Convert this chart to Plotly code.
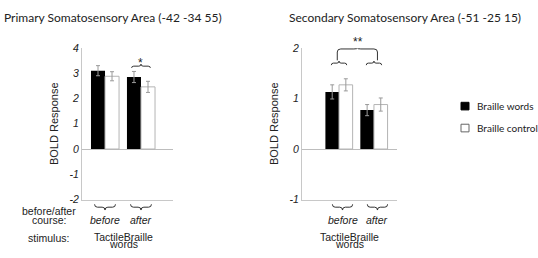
import plotly.graph_objects as go

W, H = 538, 258

# ---- data ----
groups = ["before", "after"]
group_idx = [0, 1]
left_words = [3.10, 2.85]
left_words_err = [0.20, 0.22]
left_control = [2.88, 2.46]
left_control_err = [0.18, 0.22]
right_words = [1.13, 0.77]
right_words_err = [0.14, 0.11]
right_control = [1.27, 0.88]
right_control_err = [0.12, 0.13]
left_ticks = [-2, -1, 0, 1, 2, 3, 4]
left_ticktext = ["-2", "-1", "0", "1", "2", "3", "4"]
right_ticks = [-1, 0, 1, 2]
right_ticktext = ["-1", "0", "1", "2"]
series_names = ["Braille words", "Braille control"]
titles = ["Primary Somatosensory Area (-42 -34 55)",
          "Secondary Somatosensory Area (-51 -25 15)"]

AX_FONT = "Liberation Sans, Arial, sans-serif"
TI_FONT = "Lato, Open Sans, sans-serif"
GRAY_LINE = "#c8c8c8"
ERR = "#9a9a9a"
TXT = "#222"


def px(x):
    return x / W


def py(y):
    return 1 - y / H


fig = go.Figure()


def add_panel(xa, ya, words, words_err, control, control_err):
    fig.add_trace(go.Bar(
        x=group_idx, y=words, name=series_names[0], xaxis=xa, yaxis=ya,
        marker=dict(color="black", line=dict(width=0)),
        error_y=dict(type="data", array=words_err, color=ERR, thickness=1, width=2),
        showlegend=False))
    fig.add_trace(go.Bar(
        x=group_idx, y=control, name=series_names[1], xaxis=xa, yaxis=ya,
        marker=dict(color="white", line=dict(color="#b4b4b4", width=1)),
        error_y=dict(type="data", array=control_err, color=ERR, thickness=1, width=2),
        showlegend=False))


add_panel("x", "y", left_words, left_words_err, left_control, left_control_err)
add_panel("x2", "y2", right_words, right_words_err, right_control, right_control_err)

ydom = [py(203), py(44)]
common_y = dict(showline=True, linecolor=GRAY_LINE, linewidth=1, showgrid=False,
                zeroline=True, zerolinecolor="#bdbdbd", zerolinewidth=1, ticks="",
                tickfont=dict(family=AX_FONT, size=10.5, color=TXT, style="italic"),
                domain=ydom)
common_x = dict(showline=True, linecolor=GRAY_LINE, linewidth=1, showgrid=False,
                zeroline=False, showticklabels=False, ticks="")

fig.update_layout(
    width=W, height=H, margin=dict(l=0, r=0, t=0, b=0),
    paper_bgcolor="white", plot_bgcolor="white",
    barmode="group", bargap=0.22, bargroupgap=0,
    showlegend=False,
    xaxis=dict(common_x, domain=[px(82), px(173)], range=[-0.64, 1.89], anchor="y"),
    xaxis2=dict(common_x, domain=[px(302), px(397)], range=[-1.06, 1.66], anchor="y2"),
    yaxis=dict(common_y, range=[-2, 4], tickvals=left_ticks, ticktext=left_ticktext,
               anchor="x",
               title=dict(text="BOLD Response", standoff=8,
                          font=dict(family=AX_FONT, size=11, color=TXT))),
    yaxis2=dict(common_y, range=[-1, 2], tickvals=right_ticks, ticktext=right_ticktext,
                anchor="x2",
                title=dict(text="BOLD Response", standoff=8,
                           font=dict(family=AX_FONT, size=11, color=TXT))),
)


def brace(x0, x1, yend, yarm, ytip, rx):
    xm = (x0 + x1) / 2
    return (f"M{x0},{yend} Q{x0},{yarm} {x0 + rx},{yarm} L{xm - rx},{yarm} "
            f"Q{xm},{yarm} {xm},{ytip} Q{xm},{yarm} {xm + rx},{yarm} "
            f"L{x1 - rx},{yarm} Q{x1},{yarm} {x1},{yend}")


def brace_sq(x0, x1, yend, yarm, ytip, rx, ry):
    xm = (x0 + x1) / 2
    s = 1 if yarm > yend else -1
    return (f"M{x0},{yend} L{x0},{yarm - s * ry} Q{x0},{yarm} {x0 + rx},{yarm} "
            f"L{xm - rx},{yarm} Q{xm},{yarm} {xm},{ytip} Q{xm},{yarm} {xm + rx},{yarm} "
            f"L{x1 - rx},{yarm} Q{x1},{yarm} {x1},{yarm - s * ry} L{x1},{yend}")


shapes = []
annots = []
line = dict(color="#333", width=1)

# significance braces, left panel
shapes.append(dict(type="path", xref="x", yref="y", line=line,
                   path=brace(1 - 0.26, 1 + 0.26, 3.21, 3.28, 3.36, 0.06)))
annots.append(dict(text="*", xref="x", yref="y", x=1, y=3.40, xanchor="center",
                   yanchor="middle", showarrow=False,
                   font=dict(family=AX_FONT, size=12, color=TXT)))
# right panel
for gx in group_idx:
    shapes.append(dict(type="path", xref="x2", yref="y2", line=line,
                       path=brace(gx - 0.22, gx + 0.22, 1.66, 1.70, 1.74, 0.06)))
shapes.append(dict(type="path", xref="x2", yref="y2", line=line,
                   path=brace_sq(-0.05, 1.1, 1.755, 1.98, 2.0, 0.1, 0.06)))
annots.append(dict(text="**", xref="x2", yref="paper", x=0.53, y=py(38), xanchor="center",
                   yanchor="middle", showarrow=False,
                   font=dict(family=AX_FONT, size=12, color=TXT)))

# under-axis braces and labels
for xa, shift in (("x", 0.0), ("x2", 0.1)):
    for gx, g in zip(group_idx, groups):
        shapes.append(dict(type="path", xref=xa, yref="paper", line=dict(color="#333", width=1),
                           path=brace(gx + shift - 0.29, gx + shift + 0.29,
                                      py(208), py(211), py(214), 0.08)))
        annots.append(dict(text=g, xref=xa, yref="paper", x=gx + shift, y=py(224),
                           xanchor="center", yanchor="middle", showarrow=False,
                           font=dict(family=AX_FONT, size=10.5, color=TXT, style="italic")))
    annots.append(dict(text="TactileBraille", xref=xa, yref="paper", x=0.5 - shift * 2, y=py(242),
                       xanchor="center", yanchor="middle", showarrow=False,
                       font=dict(family=AX_FONT, size=10.5, color=TXT)))
    annots.append(dict(text="words", xref=xa, yref="paper", x=0.5 - shift * 2, y=py(250),
                       xanchor="center", yanchor="middle", showarrow=False,
                       font=dict(family=AX_FONT, size=10.5, color=TXT)))

for txt, y in (("before/after", 215.5), ("course:", 224.5), ("stimulus:", 243)):
    annots.append(dict(text=txt, xref="paper", yref="paper", x=px(48.5), y=py(y),
                       xanchor="center", yanchor="middle", showarrow=False,
                       font=dict(family=AX_FONT, size=10.5, color=TXT)))

# titles
annots.append(dict(text=titles[0], xref="paper", yref="paper", x=px(2), y=py(12),
                   xanchor="left", yanchor="middle", showarrow=False,
                   font=dict(family=TI_FONT, size=12, color=TXT)))
annots.append(dict(text=titles[1], xref="paper", yref="paper", x=px(287), y=py(12),
                   xanchor="left", yanchor="middle", showarrow=False,
                   font=dict(family=TI_FONT, size=12, color=TXT)))

# legend
for name, fill, yc in ((series_names[0], "black", 105), (series_names[1], "white", 128)):
    shapes.append(dict(type="rect", xref="paper", yref="paper",
                       x0=px(461), x1=px(469), y0=py(yc - 4), y1=py(yc + 4),
                       fillcolor=fill, line=dict(color="#666" if fill == "white" else "black", width=1)))
    annots.append(dict(text=name, xref="paper", yref="paper", x=px(475), y=py(yc),
                       xanchor="left", yanchor="middle", showarrow=False,
                       font=dict(family=TI_FONT, size=10, color=TXT)))

fig.update_layout(shapes=shapes, annotations=annots)
fig.write_html("out.html", config={"displayModeBar": False},
               post_script="document.body.style.margin='0px';")
